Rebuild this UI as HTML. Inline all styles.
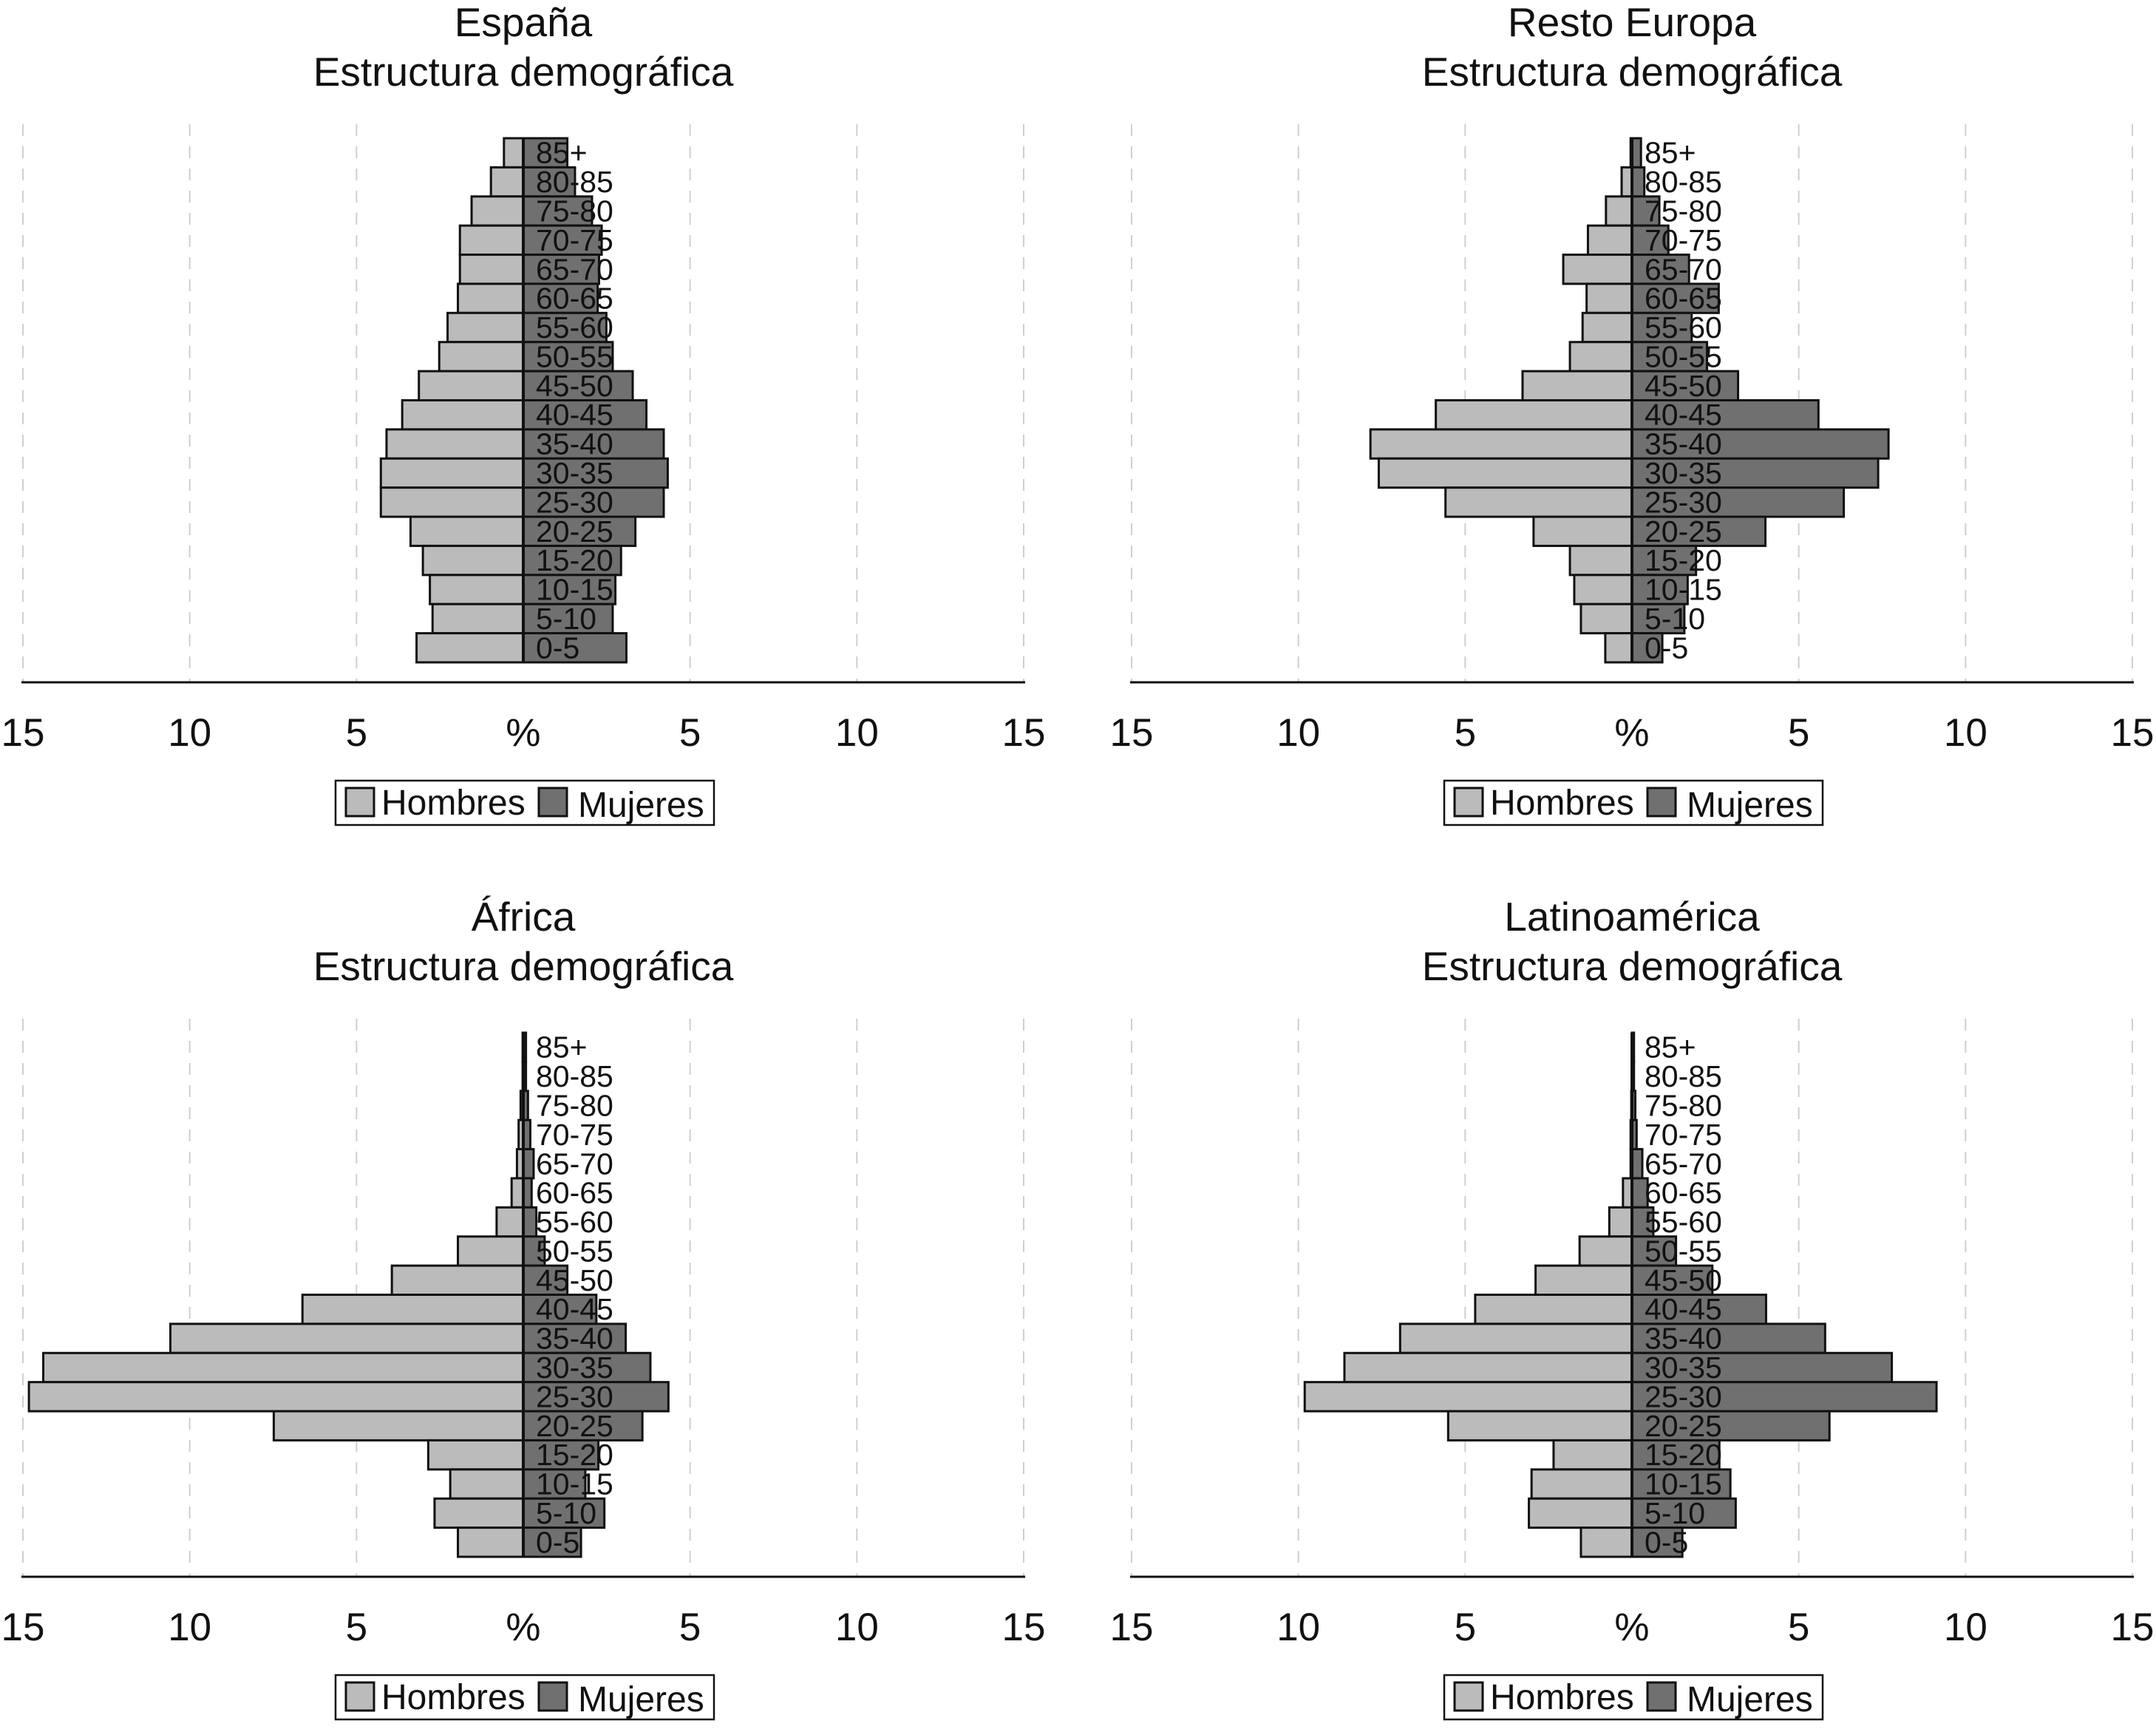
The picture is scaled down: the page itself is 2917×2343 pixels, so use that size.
<!DOCTYPE html>
<html><head><meta charset="utf-8"><style>
html,body{margin:0;padding:0;background:#fff;}
svg{display:block;font-family:"Liberation Sans",Arial,sans-serif;}
</style></head><body>
<svg id="chart" width="2917" height="2343" viewBox="0 0 2917 2343"></svg>
<script>
const ages = ["85+","80-85","75-80","70-75","65-70","60-65","55-60","50-55","45-50","40-45","35-40","30-35","25-30","20-25","15-20","10-15","5-10","0-5"];
const panelTitles = ["España","Resto Europa","África","Latinoamérica"];
const espanaHombres = [0.58,0.97,1.55,1.90,1.90,1.96,2.27,2.52,3.13,3.63,4.10,4.27,4.27,3.38,3.01,2.80,2.72,3.20];
const espanaMujeres = [1.32,1.55,2.06,2.35,2.27,2.23,2.49,2.68,3.28,3.69,4.21,4.33,4.21,3.36,2.93,2.76,2.68,3.09];
const europaHombres = [0.04,0.31,0.78,1.32,2.06,1.36,1.48,1.86,3.28,5.88,7.84,7.59,5.59,2.95,1.86,1.73,1.53,0.80];
const europaMujeres = [0.27,0.37,0.82,1.09,1.71,2.60,1.79,2.25,3.18,5.59,7.69,7.38,6.35,4.00,1.92,1.67,1.57,0.91];
const africaHombres = [0.02,0.02,0.08,0.14,0.19,0.35,0.80,1.96,3.94,6.62,10.58,14.39,14.82,7.48,2.85,2.19,2.66,1.96];
const africaMujeres = [0.08,0.08,0.14,0.21,0.31,0.25,0.39,0.64,1.32,2.19,3.07,3.81,4.35,3.57,2.25,1.86,2.43,1.73];
const latamHombres = [0.0,0.0,0.02,0.04,0.04,0.27,0.68,1.57,2.89,4.70,6.95,8.62,9.81,5.51,2.35,3.01,3.09,1.53];
const latamMujeres = [0.06,0.06,0.10,0.14,0.31,0.47,0.64,1.32,2.41,4.02,5.79,7.79,9.13,5.92,2.62,2.95,3.11,1.51];
const tickValues = [-15,-10,-5,0,5,10,15];
const tickLabels = ["15","10","5","%","5","10","15"];

const NS="http://www.w3.org/2000/svg";
const svg=document.getElementById('chart');
function mk(tag,attrs,parent){const e=document.createElementNS(NS,tag);for(const k in attrs)e.setAttribute(k,attrs[k]);(parent||svg).appendChild(e);return e;}

const hombresSeries=[espanaHombres,europaHombres,africaHombres,latamHombres];
const mujeresSeries=[espanaMujeres,europaMujeres,africaMujeres,latamMujeres];
const slugs=["espana","resto-europa","africa","latinoamerica"];

for(let p=0;p<4;p++){
  const col=p%2, row=Math.floor(p/2);
  const left = col===0?31:1531;
  const right = col===0?1385:2885;
  const oy = row*1210;
  const center=(left+right)/2;
  const unit=(right-left)/30;
  const xs=v=>center+v*unit;
  const g=mk('g',{});
  
  
  const t1=mk('text',{x:center,y:49+oy,'text-anchor':'middle','font-size':55,fill:'#111'},g);
  t1.textContent=panelTitles[p];
  
  
  const t2=mk('text',{x:center,y:116+oy,'text-anchor':'middle','font-size':55,fill:'#111'},g);
  t2.textContent="Estructura demográfica";
  
  
  const gTop=168+oy, axisY=923+oy;
  for(const v of tickValues){
    if(v===0) continue;
    const gl=mk('line',{x1:xs(v),x2:xs(v),y1:gTop,y2:axisY,stroke:'#cfcfcf','stroke-width':2,'stroke-dasharray':'16 14'},g);
    
    
  }
  const barTop=187+oy, bh=(896-187)/18;
  const H=hombresSeries[p], M=mujeresSeries[p];
  for(let i=0;i<ages.length;i++){
    const y=barTop+i*bh;
    const rh=mk('rect',{x:xs(-H[i]),y:y,width:Math.max(H[i]*unit,0.01),height:bh,fill:'#bbbbbb',stroke:'#111','stroke-width':3},g);
    
    
    const rm=mk('rect',{x:xs(0),y:y,width:Math.max(M[i]*unit,0.01),height:bh,fill:'#707070',stroke:'#111','stroke-width':3},g);
    
    
  }
  const cl=mk('line',{x1:xs(0),x2:xs(0),y1:barTop,y2:barTop+18*bh,stroke:'#111','stroke-width':4},g);
  
  
  for(let i=0;i<ages.length;i++){
    const y=barTop+i*bh+bh/2+14;
    const lt=mk('text',{x:xs(0)+17,y:y,'font-size':41,fill:'#111'},g);
    lt.textContent=ages[i];
    
    
  }
  const ax=mk('line',{x1:left-2,x2:right+2,y1:axisY,y2:axisY,stroke:'#111','stroke-width':3},g);
  
  
  for(let k=0;k<tickValues.length;k++){
    const tl=mk('text',{x:xs(tickValues[k]),y:1009+oy,'text-anchor':'middle','font-size':53,fill:'#111'},g);
    tl.textContent=tickLabels[k];
    
    
  }
  const lx=center-254, ly=1056+oy;
  const lg=mk('g',{},g);
  
  
  mk('rect',{x:lx,y:ly,width:512,height:60,fill:'#fff',stroke:'#111','stroke-width':2.5},lg);
  const s1=mk('rect',{x:lx+14,y:ly+10,width:38,height:38,fill:'#bbbbbb',stroke:'#111','stroke-width':3},lg);
  
  
  const l1=mk('text',{x:lx+62,y:ly+46,'font-size':48,fill:'#111'},lg);
  l1.textContent="Hombres";
  
  
  const s2=mk('rect',{x:lx+275,y:ly+10,width:38,height:38,fill:'#707070',stroke:'#111','stroke-width':3},lg);
  
  
  const l2=mk('text',{x:lx+328,y:ly+49,'font-size':48,fill:'#111'},lg);
  l2.textContent="Mujeres";
  
  
}
</script>
</body></html>
